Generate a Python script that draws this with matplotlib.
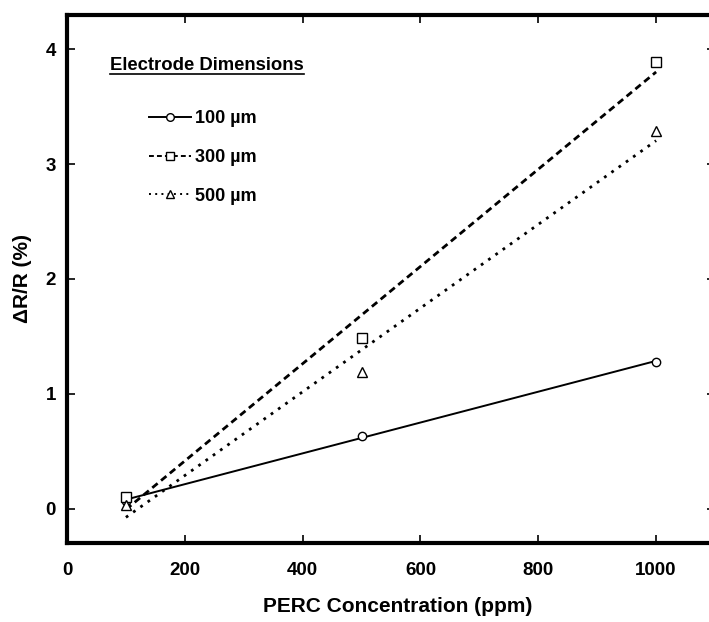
"""Sensor response vs. PERC concentration for three electrode widths."""

import numpy as np
import matplotlib.pyplot as plt
from matplotlib.lines import Line2D

plt.rcParams.update({
    "font.family": ["Liberation Sans", "DejaVu Sans"],
    "font.size": 13.5,
    "font.weight": "bold",
    "axes.labelweight": "bold",
    "figure.facecolor": "white",
})

# PERC concentration (ppm) and relative resistance change (%)
conc = np.array([100, 500, 1000])
dr_100um = np.array([0.07, 0.63, 1.28])
dr_300um = np.array([0.10, 1.49, 3.89])
dr_500um = np.array([0.03, 1.19, 3.29])

labels = ["100 \u00b5m", "300 \u00b5m", "500 \u00b5m"]
markers = ["o", "s", "^"]
msizes = [6, 7, 7]
styles = ["-", (0, (2.5, 1.6)), (0, (1, 2.2))]
widths = [1.4, 2.0, 2.0]
xticks = [0, 200, 400, 600, 800, 1000]
yticks = [0, 1, 2, 3, 4]

fig = plt.figure(figsize=(7.09, 6.22), dpi=100)
ax = fig.add_axes([0.0945, 0.127, 0.914, 0.849])

handles = []
for y, lab, mk, ms, ls, lw in zip([dr_100um, dr_300um, dr_500um],
                                  labels, markers, msizes, styles, widths):
    # linear regression through the three points
    slope, icpt = np.polyfit(conc, y, 1)
    ax.plot(conc[[0, -1]], slope * conc[[0, -1]] + icpt,
            color="black", linestyle=ls, linewidth=lw, zorder=2)
    ax.plot(conc, y, linestyle="none", marker=mk, markersize=ms,
            markerfacecolor="white", markeredgecolor="black",
            markeredgewidth=1.0, zorder=3)
    handles.append(Line2D([], [], color="black", linestyle=ls, linewidth=1.4,
                          marker=mk, markersize=5.5, markerfacecolor="white",
                          markeredgecolor="black", markeredgewidth=1.0,
                          label=lab))

ax.set_xlim(0, 1100)
ax.set_ylim(-0.3, 4.3)
ax.set_xticks(xticks)
ax.set_yticks(yticks)
ax.tick_params(direction="in", length=6, width=1.2, top=True, right=True)
ax.tick_params(axis="x", pad=14)
ax.tick_params(axis="y", pad=8)
for sp in ax.spines.values():
    sp.set_linewidth(3)

ax.set_xlabel("PERC Concentration (ppm)", fontsize=15)
ax.set_ylabel("\u0394R/R (%)", fontsize=15)
ax.xaxis.set_label_coords(0.511, -0.102)
ax.yaxis.set_label_coords(-0.054, 0.5)

# legend with an underlined heading
ax.text(0.066, 0.905, "Electrode Dimensions", transform=ax.transAxes,
        fontsize=13.3, ha="left", va="center")
ax.plot([0.066, 0.366], [0.889, 0.889], transform=ax.transAxes,
        color="black", linewidth=1.2, clip_on=False)
ax.legend(handles=handles, loc="upper left", bbox_to_anchor=(0.116, 0.833),
          frameon=False, handlelength=2.33, handletextpad=0.22,
          labelspacing=1.2, fontsize=13, numpoints=1, borderaxespad=0)

fig.savefig("out.png", dpi=100)
